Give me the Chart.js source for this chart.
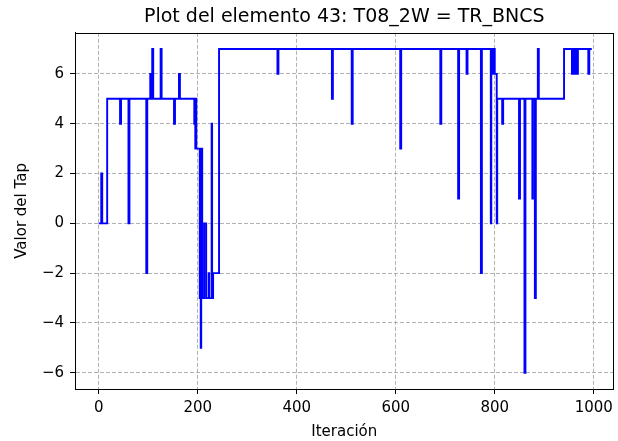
<!DOCTYPE html>
<html><head><meta charset="utf-8">
<script src="https://cdn.jsdelivr.net/npm/chart.js@4"></script>
<style>html,body{margin:0;padding:0;background:#fff;overflow:hidden}</style>
</head><body>
<canvas id="c" width="618" height="441"></canvas>
<script>
// Iteration where the tap changes, and the tap value from there on
const changeIteration = [
  0, 5, 7, 17, 43, 45, 60, 62, 96, 98,
  104, 106, 107, 108, 110, 125, 127, 152, 154, 162,
  164, 193, 194, 195, 196, 197, 204, 205, 206, 207,
  208, 209, 213, 217, 222, 223, 228, 229, 231, 243,
  361, 363, 471, 473, 511, 513, 609, 611, 690, 692,
  726, 728, 743, 745, 772, 774, 792, 793, 795, 796,
  797, 799, 800, 804, 805, 815, 817, 849, 851, 860,
  862, 876, 877, 881, 883, 887, 889, 940, 956, 958,
  961, 963, 966, 968, 989, 991, 996
];
const tapValue = [
  0, 2, 0, 5, 4, 5, 0, 5, -2, 5,
  6, 5, 6, 7, 5, 7, 5, 4, 5, 6,
  5, 4, 5, 3, 5, 3, -3, 3, -5, -3,
  3, -3, 0, -3, -2, -3, 4, -3, -2, 7,
  6, 7, 5, 7, 4, 7, 3, 7, 4, 7,
  1, 7, 6, 7, -2, 7, 0, 7, 6, 7,
  6, 7, 6, 0, 5, 4, 5, 1, 5, -6,
  5, 1, 5, -3, 5, 7, 5, 7, 6, 7,
  6, 7, 6, 7, 6, 7, 7
];
const xTicks = [0, 200, 400, 600, 800, 1000];
const yTicks = [-6, -4, -2, 0, 2, 4, 6];
const titleText = 'Plot del elemento 43: T08_2W = TR_BNCS';
const xLabel = 'Iteración';
const yLabel = 'Valor del Tap';

const FONT = "'DejaVu Sans', sans-serif";
const points = changeIteration.map((x, i) => ({ x: x, y: tapValue[i] }));

const boxPlugin = {
  id: 'box',
  afterDraw(chart) {
    const a = chart.chartArea, ctx = chart.ctx;
    ctx.save();
    ctx.strokeStyle = '#000';
    ctx.lineWidth = 1;
    ctx.setLineDash([]);
    ctx.strokeRect(Math.round(a.left) + 0.5, Math.round(a.top) + 0.5,
                   Math.round(a.right - a.left) - 1, Math.round(a.bottom - a.top));
    ctx.restore();
  }
};

const gridOpts = {
  color: 'rgba(170,170,170,0.9)',
  lineWidth: 1,
  tickColor: '#000',
  tickBorderDash: [],
  tickLength: 5,
  tickWidth: 1
};
const borderOpts = { display: true, color: '#000', width: 1, dash: [4, 2] };

new Chart(document.getElementById('c'), {
  type: 'line',
  data: {
    datasets: [{
      data: points,
      borderColor: '#0000ff',
      borderWidth: 1.9,
      pointRadius: 0,
      stepped: 'before',
      fill: false,
      tension: 0
    }]
  },
  options: {
    responsive: false,
    animation: false,
    layout: { padding: { left: 0, right: 1, top: 0, bottom: 0 } },
    plugins: {
      legend: { display: false },
      tooltip: { enabled: false },
      title: {
        display: true, fullSize: false, text: titleText, color: '#000',
        font: { family: FONT, size: 19, weight: 'normal' },
        padding: { top: 6, bottom: 4 }
      }
    },
    scales: {
      x: {
        type: 'linear', min: -48, max: 1040,
        afterBuildTicks: s => { s.ticks = xTicks.map(v => ({ value: v })); },
        afterFit: s => { s.height = 52; },
        grid: gridOpts,
        border: borderOpts,
        ticks: { color: '#000', font: { family: FONT, size: 15 }, padding: 5, maxRotation: 0,
                 callback: v => String(v) },
        title: { display: true, text: xLabel, color: '#000', font: { family: FONT, size: 15 }, padding: { top: 0, bottom: 0 } }
      },
      y: {
        type: 'linear', min: -6.65, max: 7.65,
        afterBuildTicks: s => { s.ticks = yTicks.map(v => ({ value: v })); },
        afterFit: s => { s.width = 75; },
        grid: gridOpts,
        border: borderOpts,
        ticks: {
          color: '#000', font: { family: FONT, size: 15 }, padding: 6,
          callback: v => String(v).replace('-', '\u2212')
        },
        title: { display: true, text: yLabel, color: '#000', font: { family: FONT, size: 15 }, padding: { top: 13, bottom: 0 } }
      }
    }
  },
  plugins: [boxPlugin]
});
</script>
</body></html>
